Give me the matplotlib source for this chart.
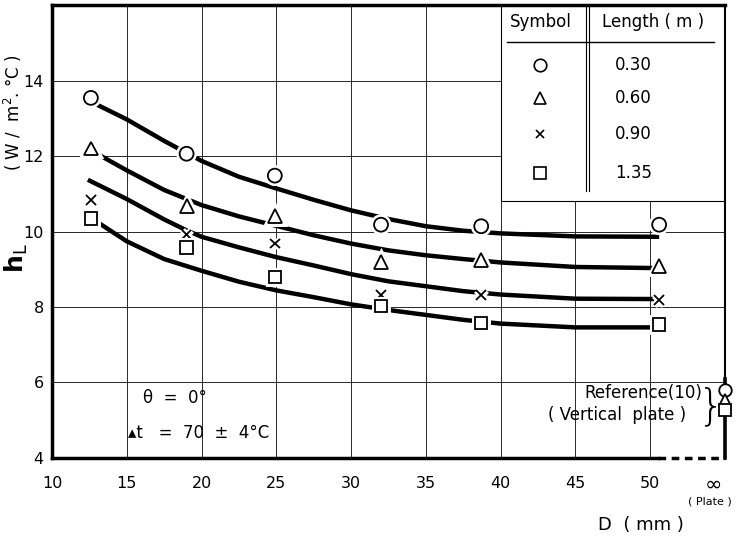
import matplotlib
matplotlib.use('Agg')
import matplotlib.pyplot as plt
import matplotlib.patheffects as pe
from matplotlib.patches import Rectangle

plt.rcParams['font.family'] = ['DejaVu Sans']

# measured points (D in mm, h_L in W/m2 C)
D_pts = [12.6, 19.0, 24.9, 32.0, 38.7, 50.6]
h_030 = [13.54, 12.06, 11.48, 10.18, 10.14, 10.18]
h_060 = [12.20, 10.68, 10.40, 9.20, 9.25, 9.09]
h_090 = [10.84, 9.92, 9.68, 8.32, 8.32, 8.19]
h_135 = [10.34, 9.57, 8.80, 8.03, 7.58, 7.53]

# reference values, vertical plate (plotted at the infinity position)
ref_h = [5.80, 5.54, 5.27, 5.27]

# fitted curves
c1_x = [12.7, 15, 17.5, 19, 20, 22.5, 25, 27.5, 30, 32.5, 35, 37.5, 40, 45, 50.6]
c1_y = [13.42, 12.97, 12.40, 12.08, 11.87, 11.45, 11.14, 10.84, 10.56, 10.33, 10.14, 10.02, 9.95, 9.87, 9.86]
c2_x = [13.1, 15, 17.5, 20, 22.5, 25, 27.5, 30, 32.5, 35, 37.5, 40, 45, 50.6]
c2_y = [12.04, 11.62, 11.10, 10.70, 10.40, 10.15, 9.90, 9.68, 9.50, 9.37, 9.27, 9.18, 9.06, 9.03]
c3_x = [12.4, 15, 17.5, 19, 20, 22.5, 25, 27.5, 30, 32.5, 35, 37.5, 40, 45, 50.6]
c3_y = [11.37, 10.86, 10.32, 10.03, 9.86, 9.58, 9.32, 9.10, 8.87, 8.68, 8.55, 8.42, 8.33, 8.22, 8.21]
c4_x = [12.8, 15, 17.5, 20, 22.5, 25, 27.5, 30, 32.5, 35, 37.5, 40, 45, 50.6]
c4_y = [10.31, 9.74, 9.27, 8.96, 8.67, 8.44, 8.26, 8.07, 7.92, 7.79, 7.66, 7.56, 7.46, 7.46]

xticks = [10, 15, 20, 25, 30, 35, 40, 45, 50]
yticks = [4, 6, 8, 10, 12, 14]
lengths = ['0.30', '0.60', '0.90', '1.35']
symbols = ['o', '^', 'x', 's']

fig = plt.figure(figsize=(7.46, 5.39), dpi=100)
ax = fig.add_axes([0.0697, 0.1503, 0.9021, 0.8404])
ax.set_xlim(10, 55)
ax.set_ylim(4, 16)

# grid, drawn by hand so the legend box can cover part of it
for x in xticks[1:]:
    ax.plot([x, x], [4, 16], color='0.15', lw=0.7, zorder=1)
for y in yticks[1:]:
    ax.plot([10, 55], [y, y], color='0.15', lw=0.7, zorder=1)

# curves
for cx, cy in [(c1_x, c1_y), (c2_x, c2_y), (c3_x, c3_y), (c4_x, c4_y)]:
    ax.plot(cx, cy, color='black', lw=3.2, solid_capstyle='butt', zorder=3)

halo = [pe.Stroke(linewidth=5, foreground='white'), pe.Normal()]
msizes = [10, 10, 7, 9]
for h, m, ms in zip([h_030, h_060, h_090, h_135], symbols, msizes):
    ax.plot(D_pts, h, ls='none', marker=m, ms=ms, mfc='white', mec='black',
            mew=1.3, zorder=4, path_effects=halo, clip_on=False)

# reference points at D = infinity
for h, m, ms in zip(ref_h, symbols, msizes):
    ax.plot([55], [h], ls='none', marker=m, ms=ms - 1, mfc='white', mec='black',
            mew=1.3, zorder=6, clip_on=False)

# legend table (top right)
ax.add_patch(Rectangle((40, 10.82), 15, 5.18, facecolor='white', edgecolor='black',
                       lw=0.8, zorder=2))
ax.plot([40.45, 54.24], [15.03, 15.03], color='black', lw=1.0, zorder=2.5)
ax.plot([45.74, 45.74], [11.06, 16], color='black', lw=0.8, zorder=2.5)
ax.plot([45.88, 45.88], [11.06, 16], color='black', lw=0.8, zorder=2.5)
ax.text(42.7, 15.55, 'Symbol', ha='center', va='center', fontsize=12, zorder=5)
ax.text(50.2, 15.55, 'Length ( m )', ha='center', va='center', fontsize=12, zorder=5)
row_y = [14.42, 13.54, 12.57, 11.56]
for m, ms, lab, ry in zip(symbols, msizes, lengths, row_y):
    ax.plot([42.66], [ry], ls='none', marker=m, ms=ms - 1, mfc='white', mec='black',
            mew=1.2, zorder=5)
    ax.text(48.9, ry, lab, ha='center', va='center', fontsize=12, zorder=5)

# annotations
ax.text(16.1, 5.59, 'θ  =  0°', ha='left', va='center', fontsize=12)
ax.text(15.1, 4.66, '▴t   =  70  ±  4°C', ha='left', va='center', fontsize=12)
ax.text(53.5, 5.72, 'Reference(10)', ha='right', va='center', fontsize=12)
ax.text(52.4, 5.14, '( Vertical  plate )', ha='right', va='center', fontsize=12)
ax.text(54.05, 5.35, '}', ha='center', va='center', fontsize=30, fontweight='light')

# frame
for s in ['left', 'top']:
    ax.spines[s].set_linewidth(2.5)
ax.spines['right'].set_linewidth(1.5)
ax.spines['bottom'].set_linewidth(2.5)
ax.spines['bottom'].set_bounds(10, 50.5)
ax.plot([50.5, 55], [4, 4], color='black', lw=2.5, ls=(0, (2.2, 1.6)), clip_on=False, zorder=5)
ax.plot([55, 55], [4, 6.1], color='black', lw=2.6, clip_on=False, zorder=5)

ax.set_xticks(xticks)
ax.set_yticks(yticks)
ax.tick_params(length=0, labelsize=11.5)
ax.tick_params(axis='x', pad=13)
ax.tick_params(axis='y', pad=6)
ax.text(54.2, 3.3, '∞', ha='center', va='center', fontsize=15)
ax.text(54.0, 2.85, '( Plate )', ha='center', va='center', fontsize=8)

fig.text(0.859, 1 - 525 / 539, 'D  ( mm )', ha='center', va='center', fontsize=13)
fig.text(0.022, 1 - 258 / 539, r'$\mathbf{h}_{\mathsf{L}}$', rotation=90,
         ha='center', va='center', fontsize=18)
fig.text(0.017, 1 - 113 / 539, '( W /  m$^2$. °C )', rotation=90,
         ha='center', va='center', fontsize=12)

fig.savefig('out.png', dpi=100)
